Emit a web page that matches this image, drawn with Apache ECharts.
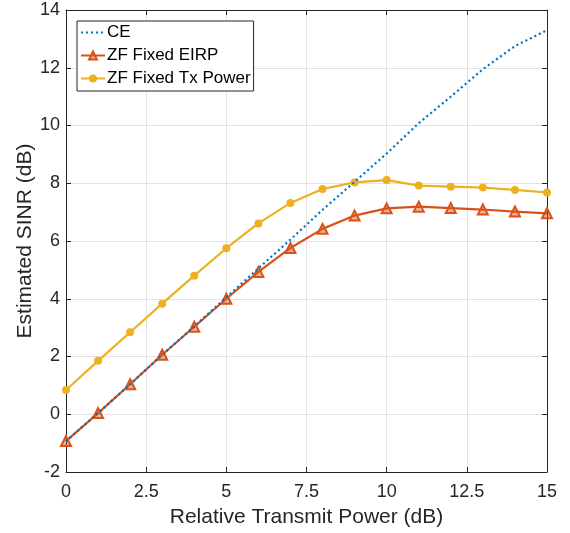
<!DOCTYPE html>
<html><head><meta charset="utf-8">
<script src="https://cdn.jsdelivr.net/npm/echarts@6/dist/echarts.min.js"></script>
<style>html,body{margin:0;padding:0;background:#fff}#c{width:570px;height:533px}</style>
</head><body><div id="c"></div>
<script>
const xValues = [0,1,2,3,4,5,6,7,8,9,10,11,12,13,14,15];
const ceValues = [-0.93,0.04,1.04,2.06,3.04,4.05,5.05,6.05,7.08,8.05,9.03,10.08,11.0,11.95,12.75,13.3];
const eirpValues = [-0.93,0.04,1.04,2.06,3.03,4.0,4.93,5.76,6.42,6.88,7.13,7.19,7.14,7.09,7.02,6.96];
const txValues = [0.84,1.85,2.84,3.83,4.80,5.75,6.61,7.32,7.80,8.03,8.11,7.92,7.88,7.85,7.77,7.68];
const seriesNames = ['CE','ZF Fixed EIRP','ZF Fixed Tx Power'];
const xTitle = 'Relative Transmit Power (dB)';
const yTitle = 'Estimated SINR (dB)';

const pair = v => xValues.map((x,i)=>[x,v[i]]);
const font = 'Liberation Sans, Arial, Helvetica, sans-serif';
const axisCol = '#262626';
const chart = echarts.init(document.getElementById('c'), null, {renderer:'canvas'});
const baseX = {type:'value', min:0, max:15, interval:2.5,
  axisLine:{show:true,onZero:false,lineStyle:{color:axisCol,width:1}},
  axisTick:{show:true,inside:true,length:5,lineStyle:{color:axisCol}},
  splitLine:{show:true,lineStyle:{color:'#e2e2e2',width:1}}};
const baseY = {type:'value', min:-2, max:14, interval:2,
  axisLine:{show:true,onZero:false,lineStyle:{color:axisCol,width:1}},
  axisTick:{show:true,inside:true,length:5,lineStyle:{color:axisCol}},
  splitLine:{show:true,lineStyle:{color:'#e2e2e2',width:1}}};
chart.setOption({
  animation:false,
  backgroundColor:'#fff',
  grid:{left:66,right:23,top:10,bottom:59,containLabel:false},
  legend:{
    orient:'vertical', left:77, top:21,
    data:[{name:seriesNames[0], itemStyle:{opacity:0}}, seriesNames[1], seriesNames[2]],
    backgroundColor:'#fff', borderColor:'#262626', borderWidth:1, borderRadius:0,
    padding:[3,3,4,3], itemWidth:24, itemHeight:10, itemGap:6,
    textStyle:{fontFamily:font,fontSize:17,color:'#000',padding:[0,0,0,-3]}
  },
  xAxis:[Object.assign({}, baseX, {position:'bottom',
      name:xTitle, nameLocation:'middle', nameGap:35, nameMoveOverlap:false,
      nameTextStyle:{fontFamily:font,fontSize:21,color:'#262626'},
      axisLabel:{fontFamily:font,fontSize:18,color:'#262626',margin:11,
        formatter:v=>String(v)}}),
    Object.assign({}, baseX, {position:'top', axisLabel:{show:false}, splitLine:{show:false}})],
  yAxis:[Object.assign({}, baseY, {position:'left',
      name:yTitle, nameLocation:'middle', nameGap:30, nameMoveOverlap:false,
      nameTextStyle:{fontFamily:font,fontSize:21,color:'#262626'},
      axisLabel:{fontFamily:font,fontSize:18,color:'#262626',margin:6}}),
    Object.assign({}, baseY, {position:'right', axisLabel:{show:false}, splitLine:{show:false}})],
  series:[
    {name:seriesNames[0], type:'line', data:pair(ceValues), symbol:'none',
      color:'#0072BD', lineStyle:{color:'#0072BD',width:2.2,type:[2,3]}, z:3},
    {name:seriesNames[1], type:'line', data:pair(eirpValues), symbol:'triangle', symbolSize:10,
      color:'#D95319', itemStyle:{color:'rgba(217,83,25,0.45)',borderColor:'#D95319',borderWidth:2},
      lineStyle:{color:'#D95319',width:2.2}, z:2},
    {name:seriesNames[2], type:'line', data:pair(txValues), symbol:'circle', symbolSize:8,
      color:'#EDB120', itemStyle:{color:'#EDB120'},
      lineStyle:{color:'#EDB120',width:2.2}, z:2}
  ]
});
</script></body></html>
